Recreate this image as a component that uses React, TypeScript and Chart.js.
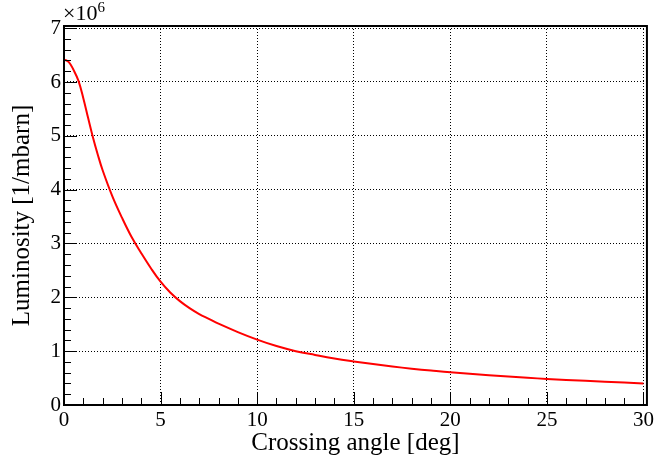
import React, { useEffect, useRef } from "react";
import { Chart, registerables } from "chart.js";

Chart.register(...registerables);

const angles = [0, 0.25, 0.5, 0.75, 1.0, 1.25, 1.5, 1.75, 2.0, 2.5, 3.0, 3.5, 4.0, 4.5, 5, 5.5, 6, 6.5, 7, 7.5, 8, 9, 10, 11, 12, 13, 14, 15, 16, 17, 18, 19, 20, 22, 24, 25, 26, 28, 30];
const luminosity = [6.42, 6.37, 6.22, 6.02, 5.7, 5.33, 4.97, 4.65, 4.36, 3.88, 3.48, 3.12, 2.82, 2.54, 2.29, 2.09, 1.93, 1.8, 1.69, 1.6, 1.51, 1.355, 1.215, 1.095, 1.0, 0.93, 0.865, 0.81, 0.76, 0.715, 0.675, 0.64, 0.607, 0.552, 0.505, 0.485, 0.466, 0.432, 0.4];
const xTicks = [0, 5, 10, 15, 20, 25, 30];
const yTicks = [0, 1, 2, 3, 4, 5, 6, 7];
const xTitle = "Crossing angle [deg]";
const yTitle = "Luminosity [1/mbarn]";
const exponentBase = "\u00d710";
const exponentPower = "6";

const FONT = "'Liberation Serif', 'Times New Roman', serif";

const rootFrame = {
  id: "rootFrame",
  afterDraw(chart: any) {
    const { ctx, chartArea, scales } = chart;
    const { left, right, top, bottom } = chartArea;
    const x = scales.x;
    const y = scales.y;
    ctx.save();
    ctx.strokeStyle = "#000";
    ctx.lineWidth = 1;
    for (let v = 0; v <= 30; v += 1) {
      const px = Math.round(x.getPixelForValue(v)) + 0.5;
      const len = v % 5 === 0 ? 13 : 7;
      ctx.beginPath();
      ctx.moveTo(px, bottom);
      ctx.lineTo(px, bottom - len);
      ctx.stroke();
    }
    for (let i = 0; i <= 35; i++) {
      const v = i * 0.2;
      const py = Math.round(y.getPixelForValue(v)) + 0.5;
      const len = i % 5 === 0 ? 13 : 7;
      ctx.beginPath();
      ctx.moveTo(left, py);
      ctx.lineTo(left + len, py);
      ctx.stroke();
    }
    ctx.lineWidth = 2;
    ctx.strokeRect(left, top, right - left, bottom - top);
    ctx.fillStyle = "#000";
    ctx.textBaseline = "alphabetic";
    ctx.textAlign = "left";
    ctx.font = `22px ${FONT}`;
    ctx.fillText(exponentBase, left - 1, 20);
    const w = ctx.measureText(exponentBase).width;
    ctx.font = `15px ${FONT}`;
    ctx.fillText(exponentPower, left - 1 + w, 12);
    ctx.restore();
  },
};

export default function App() {
  const ref = useRef<HTMLCanvasElement | null>(null);
  useEffect(() => {
    if (!ref.current) return;
    const chart = new Chart(ref.current, {
      type: "line",
      data: {
        datasets: [
          {
            data: angles.map((a, i) => ({ x: a, y: luminosity[i] })),
            borderColor: "#ff0000",
            borderWidth: 2,
            pointRadius: 0,
            tension: 0.4,
            fill: false,
          },
        ],
      },
      options: {
        animation: false,
        responsive: false,
        devicePixelRatio: 1,
        layout: { padding: { top: 26, right: 7, left: 0, bottom: 0 } },
        plugins: { legend: { display: false }, tooltip: { enabled: false } },
        scales: {
          x: {
            type: "linear",
            min: 0,
            max: 30.18,
            afterBuildTicks: (s: any) => {
              s.ticks = xTicks.map((v) => ({ value: v }));
            },
            afterFit: (s: any) => {
              s.height = 57;
            },
            grid: { color: "#000", lineWidth: 1, drawTicks: false },
            border: { display: false, dash: [1, 2] },
            ticks: {
              color: "#000",
              font: { family: FONT, size: 21 },
              padding: 3,
              maxRotation: 0,
              autoSkip: false,
            },
            title: {
              display: true,
              text: xTitle,
              color: "#000",
              font: { family: FONT, size: 25, lineHeight: 1 },
              padding: { bottom: 6, top: 0 },
            },
          },
          y: {
            type: "linear",
            min: 0,
            max: 7.04,
            afterBuildTicks: (s: any) => {
              s.ticks = yTicks.map((v) => ({ value: v }));
            },
            afterFit: (s: any) => {
              s.width = 64;
            },
            grid: { color: "#000", lineWidth: 1, drawTicks: false },
            border: { display: false, dash: [1, 2] },
            ticks: {
              color: "#000",
              font: { family: FONT, size: 21 },
              padding: 3,
              autoSkip: false,
            },
            title: {
              display: true,
              text: yTitle,
              color: "#000",
              font: { family: FONT, size: 25, lineHeight: 1 },
              padding: { top: 10, bottom: 0 },
            },
          },
        },
      },
      plugins: [rootFrame],
    } as any);
    return () => chart.destroy();
  }, []);
  return (
    <div style={{ position: "fixed", left: 0, top: 0, width: 657, height: 462, background: "#fff" }}>
      <canvas ref={ref} width={657} height={462} style={{ display: "block" }} />
    </div>
  );
}
